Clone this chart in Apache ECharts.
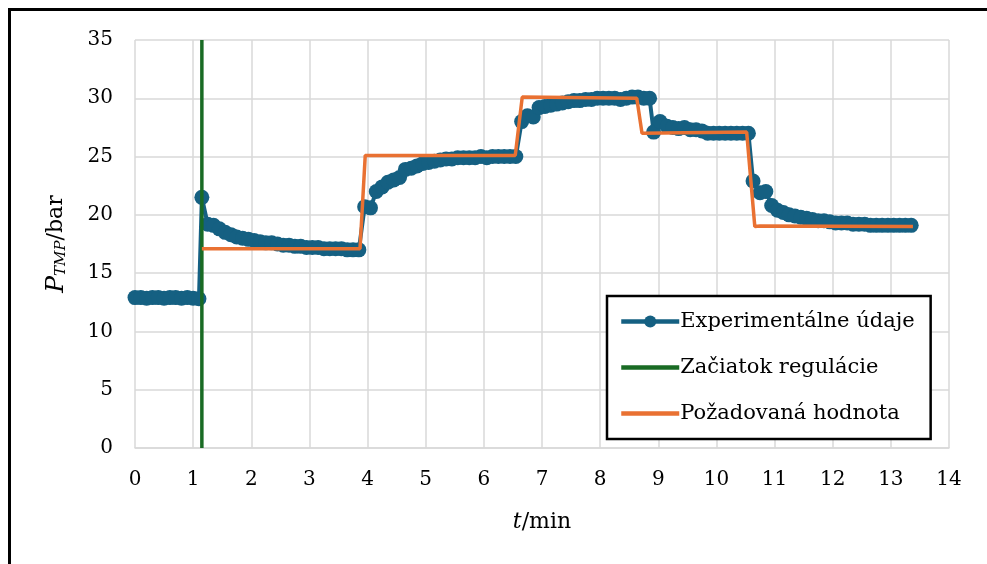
<!DOCTYPE html>
<html><head><meta charset="utf-8">
<script src="https://cdn.jsdelivr.net/npm/echarts@6/dist/echarts.min.js"></script>
<style>html,body{margin:0;padding:0;background:#fff}#c{width:987px;height:564px}</style>
</head><body><div id="c"></div>
<script>
const expTimes = [0.0,0.1,0.2,0.3,0.4,0.5,0.6,0.7,0.8,0.9,1.0,1.1,
1.15,1.25,1.35,1.45,1.55,1.65,1.75,1.85,1.95,2.05,2.15,2.25,2.35,2.45,2.55,2.65,2.75,2.85,2.95,3.05,3.15,3.25,3.35,3.45,3.55,3.65,3.75,3.85,
3.95,4.05,4.15,4.25,4.35,4.45,4.55,4.65,4.75,4.85,4.95,5.05,5.15,5.25,5.35,5.45,5.55,5.65,5.75,5.85,5.95,6.05,6.15,6.25,6.35,6.45,6.55,
6.65,6.75,6.85,6.95,7.05,7.15,7.25,7.35,7.45,7.55,7.65,7.75,7.85,7.95,8.05,8.15,8.25,8.35,8.45,8.55,8.65,8.75,8.85,
8.92,9.03,9.15,9.25,9.35,9.45,9.55,9.65,9.75,9.85,9.95,10.05,10.15,10.25,10.35,10.45,10.55,
10.63,10.75,10.85,10.95,11.05,11.15,11.25,11.35,11.45,11.55,11.65,11.75,11.85,11.95,12.05,12.15,12.25,12.35,12.45,12.55,12.65,12.75,12.85,12.95,13.05,13.15,13.25,13.35];
const expValues = [12.9,12.9,12.85,12.9,12.9,12.85,12.9,12.9,12.85,12.9,12.85,12.8,
21.5,19.2,19.1,18.8,18.5,18.3,18.1,18.0,17.9,17.8,17.7,17.6,17.6,17.5,17.4,17.4,17.3,17.3,17.2,17.2,17.2,17.1,17.1,17.1,17.1,17.0,17.0,17.0,
20.7,20.6,22.0,22.4,22.8,23.0,23.2,23.9,24.0,24.2,24.4,24.5,24.6,24.7,24.8,24.8,24.9,24.9,24.9,24.9,25.0,24.9,25.0,25.0,25.0,25.0,25.0,
28.0,28.5,28.4,29.2,29.3,29.4,29.5,29.6,29.7,29.8,29.8,29.9,29.9,30.0,30.0,30.0,30.0,29.9,30.0,30.1,30.1,30.0,30.0,
27.1,28.0,27.6,27.5,27.4,27.5,27.3,27.3,27.2,27.0,27.0,27.0,27.0,27.0,27.0,27.0,27.0,
22.9,21.9,22.0,20.8,20.4,20.2,20.0,19.9,19.8,19.7,19.6,19.5,19.5,19.4,19.3,19.3,19.3,19.2,19.2,19.2,19.1,19.1,19.1,19.1,19.1,19.1,19.1,19.1];
const startTimes = [1.15,1.15];
const startValues = [0,35];
const setTimes = [1.15,3.87,3.96,6.54,6.66,8.63,8.72,10.52,10.66,10.75,13.38];
const setValues = [17.1,17.1,25.1,25.1,30.1,30.0,27.0,27.1,19.0,19.05,19.0];
const xTicks = [0,14,1];
const yTicks = [0,35,5];
const names = ['Experimentálne údaje','Začiatok regulácie','Požadovaná hodnota'];

const zip = (a,b)=>a.map((v,i)=>[v,b[i]]);
const font = 'DejaVu Serif';
const chart = echarts.init(document.getElementById('c'));
chart.setOption({
  animation:false,
  backgroundColor:'#fff',
  textStyle:{fontFamily:font},
  graphic:[{type:'rect',shape:{x:9.5,y:9.5,width:1100,height:700},style:{fill:'none',stroke:'#000',lineWidth:3},z:100}],
  grid:{left:135,right:38,top:40,bottom:116},
  xAxis:{type:'value',min:xTicks[0],max:xTicks[1],interval:xTicks[2],
    axisLine:{show:true,lineStyle:{color:'#d9d9d9',width:1.5}},axisTick:{show:false},
    splitLine:{show:true,lineStyle:{color:'#d9d9d9',width:1.5}},
    axisLabel:{color:'#000',fontSize:20,fontFamily:font,margin:22},
    name:'{i|t}/min',nameLocation:'middle',nameGap:63,
    nameTextStyle:{color:'#000',fontSize:22,fontFamily:font,rich:{i:{fontStyle:'italic',fontSize:22,fontFamily:font,color:'#000'}}}},
  yAxis:{type:'value',min:yTicks[0],max:yTicks[1],interval:yTicks[2],
    axisLine:{show:false},axisTick:{show:false},
    splitLine:{show:true,lineStyle:{color:'#d9d9d9',width:1.5}},
    axisLabel:{color:'#000',fontSize:20,fontFamily:font,margin:22},
    name:'{i|P}{s|TMP}/bar',nameLocation:'middle',nameGap:66,nameRotate:90,
    nameTextStyle:{color:'#000',fontSize:22,fontFamily:font,
      rich:{i:{fontStyle:'italic',fontSize:25,fontFamily:font,color:'#000'},
            s:{fontStyle:'italic',fontSize:15,fontFamily:font,color:'#000',verticalAlign:'bottom',padding:[10,0,0,0]}}}},
  legend:{orient:'vertical',left:607,top:296,padding:[15,16,15,12],itemGap:25,itemWidth:58,itemHeight:15,
    borderColor:'#000',borderWidth:2.5,backgroundColor:'#fff',
    textStyle:{color:'#000',fontSize:21,fontFamily:font,padding:[0,0,0,-4]},
    data:[{name:names[0],lineStyle:{width:4.5}},
          {name:names[1],itemStyle:{opacity:0},lineStyle:{width:4.5}},
          {name:names[2],itemStyle:{opacity:0},lineStyle:{width:4.5}}]},
  series:[
    {name:names[0],type:'line',data:zip(expTimes,expValues),symbol:'circle',symbolSize:15,
      itemStyle:{color:'#156082'},lineStyle:{color:'#156082',width:4},z:2},
    {name:names[1],type:'line',data:zip(startTimes,startValues),symbol:'none',
      itemStyle:{color:'#196B24'},lineStyle:{color:'#196B24',width:3.5},z:3},
    {name:names[2],type:'line',data:zip(setTimes,setValues),symbol:'none',
      itemStyle:{color:'#E97132'},lineStyle:{color:'#E97132',width:3.5},z:4}
  ]
});
</script></body></html>
